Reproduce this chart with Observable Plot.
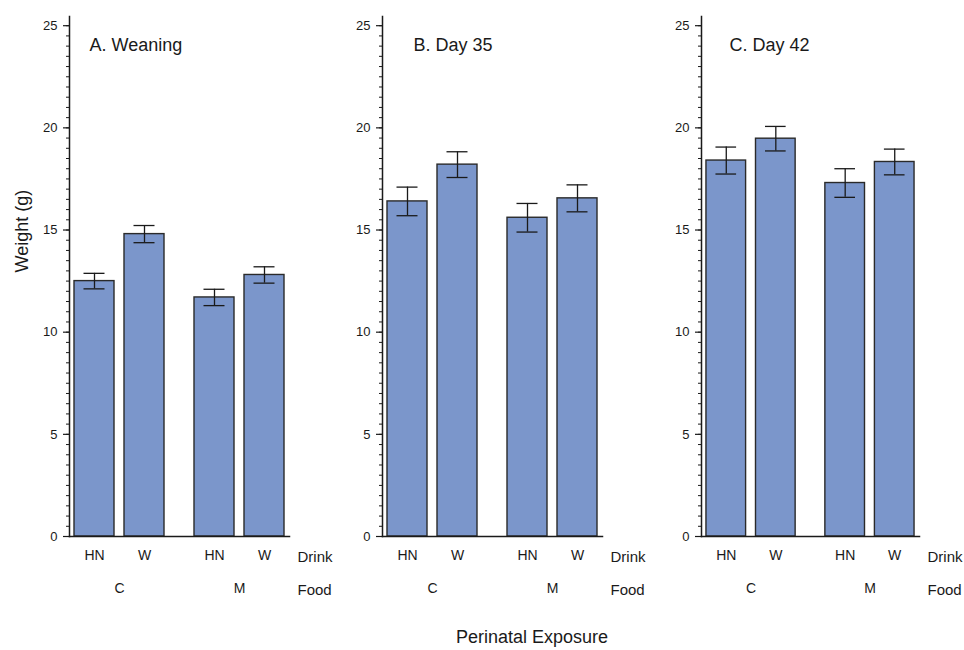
<!DOCTYPE html>
<html>
<head>
<meta charset="utf-8">
<script src="https://cdn.jsdelivr.net/npm/d3@7"></script>
<script src="https://cdn.jsdelivr.net/npm/@observablehq/plot@0.6"></script>
<style>
  html, body { margin: 0; padding: 0; background: #fff; }
  #wrap { position: relative; width: 964px; height: 650px; font-family: "Liberation Sans", Arial, sans-serif; color: #1a1a1a; }
  .panel { position: absolute; top: 0; }
  #caption { position: absolute; left: 0; width: 1064px; top: 627px; text-align: center; font-size: 18px; }
  .panel svg g[aria-label="y-axis tick label"] text { font-size: 13px; }
  .panel svg g[aria-label="x-axis tick label"] text,
  .panel svg g[aria-label="fx-axis tick label"] text { font-size: 14px; }
</style>
</head>
<body>
<div id="wrap">
  <div id="caption">Perinatal Exposure</div>
</div>
<script>
// ---- data ----
const foodLevels = ["C", "M"];
const drinkLevels = ["HN", "W"];
const food = ["C", "C", "M", "M"];
const drink = ["HN", "W", "HN", "W"];

const panelTitles = ["A. Weaning", "B. Day 35", "C. Day 42"];
const weaningMean = [12.5, 14.8, 11.7, 12.8];
const weaningErr  = [0.38, 0.42, 0.40, 0.40];
const day35Mean   = [16.4, 18.2, 15.6, 16.55];
const day35Err    = [0.70, 0.63, 0.70, 0.66];
const day42Mean   = [18.4, 19.47, 17.3, 18.33];
const day42Err    = [0.66, 0.60, 0.70, 0.63];

const yMajorTicks = [0, 5, 10, 15, 20, 25];
const yMinorTicks = d3.range(0, 25.01, 0.5);

// ---- layout ----
const panels = [
  {title: panelTitles[0], mean: weaningMean, err: weaningErr, left: 0,     plotWidth: 220, titleDx: 20, ylabel: "Weight (g)"},
  {title: panelTitles[1], mean: day35Mean,   err: day35Err,   left: 312.5, plotWidth: 220, titleDx: 31, ylabel: null},
  {title: panelTitles[2], mean: day42Mean,   err: day42Err,   left: 631.5, plotWidth: 218, titleDx: 28, ylabel: null}
];

const barFill = "#7b96cb";
const ink = "#1a1a1a";
const wrap = document.getElementById("wrap");

for (const p of panels) {
  const rows = food.map((f, i) => ({
    food: f, drink: drink[i], mean: p.mean[i], lo: p.mean[i] - p.err[i], hi: p.mean[i] + p.err[i]
  }));
  const marks = [
    Plot.barY(rows, {fx: "food", x: "drink", y: "mean", fill: barFill, stroke: "#2a2a2a", strokeWidth: 1.4}),
    Plot.ruleX(rows, {fx: "food", x: "drink", y1: "lo", y2: "hi", stroke: ink, strokeWidth: 1.3}),
    Plot.tickY(rows, {fx: "food", x: "drink", y: "lo", stroke: ink, strokeWidth: 1.3, insetLeft: 9.5, insetRight: 9.5}),
    Plot.tickY(rows, {fx: "food", x: "drink", y: "hi", stroke: ink, strokeWidth: 1.3, insetLeft: 9.5, insetRight: 9.5}),
    Plot.frame({anchor: "left", facet: "super", stroke: ink, strokeWidth: 1.5}),
    Plot.frame({anchor: "bottom", facet: "super", stroke: ink, strokeWidth: 1.5}),
    Plot.axisY(yMajorTicks, {tickSize: 6, tickPadding: 6, fontSize: 13, label: null, stroke: ink, strokeWidth: 1.2}),
    Plot.axisY(yMinorTicks, {tickSize: 3, tickFormat: () => "", label: null, stroke: ink, strokeWidth: 1}),
    Plot.axisX({tickSize: 0, tickPadding: 14, fontSize: 14, label: null}),
    Plot.axisFx({anchor: "bottom", tickSize: 0, tickPadding: 47, fontSize: 14, label: null}),
    Plot.text([p.title], {text: d => d, frameAnchor: "top-left", dx: p.titleDx, dy: 22, fontSize: 18, textAnchor: "start", facet: "super"}),
    Plot.text(["Drink"], {text: d => d, frameAnchor: "bottom-right", dx: 8, dy: 25, fontSize: 15, textAnchor: "start", facet: "super"}),
    Plot.text(["Food"], {text: d => d, frameAnchor: "bottom-right", dx: 8, dy: 58, fontSize: 15, textAnchor: "start", facet: "super"})
  ];
  if (p.ylabel) {
    marks.push(Plot.text([p.ylabel], {text: d => d, frameAnchor: "left", dx: -47, dy: -4, rotate: -90, fontSize: 18, facet: "super"}));
  }
  const chart = Plot.plot({
    width: 69 + p.plotWidth + 51,
    height: 610,
    marginLeft: 69,
    marginRight: 51,
    marginTop: 16,
    marginBottom: 74,
    style: {background: "transparent", overflow: "visible", maxWidth: "none", fontFamily: "'Liberation Sans', Arial, sans-serif", fontSize: "13px", color: ink},
    x: {domain: drinkLevels, paddingInner: 0.2, paddingOuter: 0.1, round: false},
    fx: {domain: foodLevels, paddingInner: 1 / 6, paddingOuter: 0, round: false},
    y: {domain: [0, 25.45]},
    marks
  });
  const holder = document.createElement("div");
  holder.className = "panel";
  holder.style.left = p.left + "px";
  holder.appendChild(chart);
  wrap.appendChild(holder);
}
</script>
</body>
</html>
